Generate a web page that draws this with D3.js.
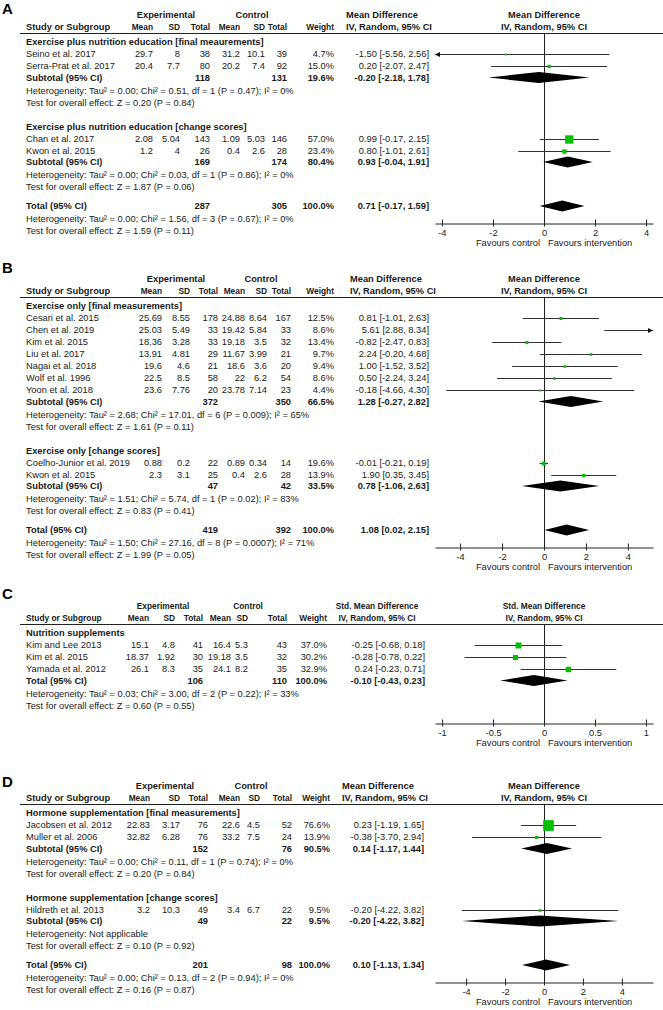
<!DOCTYPE html>
<html><head><meta charset="utf-8">
<script src="https://cdn.jsdelivr.net/npm/d3@7"></script>
<style>
html,body{margin:0;padding:0;background:#fff;}
svg{display:block;}
text{font-family:"Liberation Sans",Arial,sans-serif;font-size:9.3px;fill:#1a1a1a;}
.b{font-weight:bold;}
.lab{font-size:15px;font-weight:bold;fill:#000;}
</style></head><body>
<svg id="c" width="663" height="1010"></svg>
<script>
// ---------------- DATA ----------------
const groupsA = ["Exercise plus nutrition education [final meaurements]", "Exercise plus nutrition education [change scores]"];
const studiesA = [
  {g:0, name:"Seino et al. 2017", em:"29.7", esd:"8", en:38, cm:"31.2", csd:"10.1", cn:39, w:4.7, md:-1.50, lo:-5.56, hi:2.56},
  {g:0, name:"Serra-Prat et al. 2017", em:"20.4", esd:"7.7", en:80, cm:"20.2", csd:"7.4", cn:92, w:15.0, md:0.20, lo:-2.07, hi:2.47},
  {g:1, name:"Chan et al. 2017", em:"2.08", esd:"5.04", en:143, cm:"1.09", csd:"5.03", cn:146, w:57.0, md:0.99, lo:-0.17, hi:2.15},
  {g:1, name:"Kwon et al. 2015", em:"1.2", esd:"4", en:26, cm:"0.4", csd:"2.6", cn:28, w:23.4, md:0.80, lo:-1.01, hi:2.61}
];
const subtotalsA = [
  {g:0, en:118, cn:131, w:19.6, md:-0.20, lo:-2.18, hi:1.78, het:"Heterogeneity: Tau² = 0.00; Chi² = 0.51, df = 1 (P = 0.47); I² = 0%", test:"Test for overall effect: Z = 0.20 (P = 0.84)"},
  {g:1, en:169, cn:174, w:80.4, md:0.93, lo:-0.04, hi:1.91, het:"Heterogeneity: Tau² = 0.00; Chi² = 0.03, df = 1 (P = 0.86); I² = 0%", test:"Test for overall effect: Z = 1.87 (P = 0.06)"}
];
const totalA = {en:287, cn:305, w:100.0, md:0.71, lo:-0.17, hi:1.59, het:"Heterogeneity: Tau² = 0.00; Chi² = 1.56, df = 3 (P = 0.67); I² = 0%", test:"Test for overall effect: Z = 1.59 (P = 0.11)"};
const ticksA = [-4, -2, 0, 2, 4];

const groupsB = ["Exercise only [final measurements]", "Exercise only [change scores]"];
const studiesB = [
  {g:0, name:"Cesari et al. 2015", em:"25.69", esd:"8.55", en:178, cm:"24.88", csd:"8.64", cn:167, w:12.5, md:0.81, lo:-1.01, hi:2.63},
  {g:0, name:"Chen et al. 2019", em:"25.03", esd:"5.49", en:33, cm:"19.42", csd:"5.84", cn:33, w:8.6, md:5.61, lo:2.88, hi:8.34},
  {g:0, name:"Kim et al. 2015", em:"18.36", esd:"3.28", en:33, cm:"19.18", csd:"3.5", cn:32, w:13.4, md:-0.82, lo:-2.47, hi:0.83},
  {g:0, name:"Liu et al. 2017", em:"13.91", esd:"4.81", en:29, cm:"11.67", csd:"3.99", cn:21, w:9.7, md:2.24, lo:-0.20, hi:4.68},
  {g:0, name:"Nagai et al. 2018", em:"19.6", esd:"4.6", en:21, cm:"18.6", csd:"3.6", cn:20, w:9.4, md:1.00, lo:-1.52, hi:3.52},
  {g:0, name:"Wolf et al. 1996", em:"22.5", esd:"8.5", en:58, cm:"22", csd:"6.2", cn:54, w:8.6, md:0.50, lo:-2.24, hi:3.24},
  {g:0, name:"Yoon et al. 2018", em:"23.6", esd:"7.76", en:20, cm:"23.78", csd:"7.14", cn:23, w:4.4, md:-0.18, lo:-4.66, hi:4.30},
  {g:1, name:"Coelho-Junior et al. 2019", em:"0.88", esd:"0.2", en:22, cm:"0.89", csd:"0.34", cn:14, w:19.6, md:-0.01, lo:-0.21, hi:0.19},
  {g:1, name:"Kwon et al. 2015", em:"2.3", esd:"3.1", en:25, cm:"0.4", csd:"2.6", cn:28, w:13.9, md:1.90, lo:0.35, hi:3.45}
];
const subtotalsB = [
  {g:0, en:372, cn:350, w:66.5, md:1.28, lo:-0.27, hi:2.82, het:"Heterogeneity: Tau² = 2.68; Chi² = 17.01, df = 6 (P = 0.009); I² = 65%", test:"Test for overall effect: Z = 1.61 (P = 0.11)"},
  {g:1, en:47, cn:42, w:33.5, md:0.78, lo:-1.06, hi:2.63, het:"Heterogeneity: Tau² = 1.51; Chi² = 5.74, df = 1 (P = 0.02); I² = 83%", test:"Test for overall effect: Z = 0.83 (P = 0.41)"}
];
const totalB = {en:419, cn:392, w:100.0, md:1.08, lo:0.02, hi:2.15, het:"Heterogeneity: Tau² = 1.50; Chi² = 27.16, df = 8 (P = 0.0007); I² = 71%", test:"Test for overall effect: Z = 1.99 (P = 0.05)"};
const ticksB = [-4, -2, 0, 2, 4];

const groupsC = ["Nutrition supplements"];
const studiesC = [
  {g:0, name:"Kim and Lee 2013", em:"15.1", esd:"4.8", en:41, cm:"16.4", csd:"5.3", cn:43, w:37.0, md:-0.25, lo:-0.68, hi:0.18},
  {g:0, name:"Kim et al. 2015", em:"18.37", esd:"1.92", en:30, cm:"19.18", csd:"3.5", cn:32, w:30.2, md:-0.28, lo:-0.78, hi:0.22},
  {g:0, name:"Yamada et al. 2012", em:"26.1", esd:"8.3", en:35, cm:"24.1", csd:"8.2", cn:35, w:32.9, md:0.24, lo:-0.23, hi:0.71}
];
const subtotalsC = [];
const totalC = {en:106, cn:110, w:100.0, md:-0.10, lo:-0.43, hi:0.23, het:"Heterogeneity: Tau² = 0.03; Chi² = 3.00, df = 2 (P = 0.22); I² = 33%", test:"Test for overall effect: Z = 0.60 (P = 0.55)"};
const ticksC = [-1, -0.5, 0, 0.5, 1];

const groupsD = ["Hormone supplementation [final measurements]", "Hormone supplementation [change scores]"];
const studiesD = [
  {g:0, name:"Jacobsen et al. 2012", em:"22.83", esd:"3.17", en:76, cm:"22.6", csd:"4.5", cn:52, w:76.6, md:0.23, lo:-1.19, hi:1.65},
  {g:0, name:"Muller et al. 2006", em:"32.82", esd:"6.28", en:76, cm:"33.2", csd:"7.5", cn:24, w:13.9, md:-0.38, lo:-3.70, hi:2.94},
  {g:1, name:"Hildreth et al. 2013", em:"3.2", esd:"10.3", en:49, cm:"3.4", csd:"6.7", cn:22, w:9.5, md:-0.20, lo:-4.22, hi:3.82}
];
const subtotalsD = [
  {g:0, en:152, cn:76, w:90.5, md:0.14, lo:-1.17, hi:1.44, het:"Heterogeneity: Tau² = 0.00; Chi² = 0.11, df = 1 (P = 0.74); I² = 0%", test:"Test for overall effect: Z = 0.20 (P = 0.84)"},
  {g:1, en:49, cn:22, w:9.5, md:-0.20, lo:-4.22, hi:3.82, het:"Heterogeneity: Not applicable", test:"Test for overall effect: Z = 0.10 (P = 0.92)"}
];
const totalD = {en:201, cn:98, w:100.0, md:0.10, lo:-1.13, hi:1.34, het:"Heterogeneity: Tau² = 0.00; Chi² = 0.13, df = 2 (P = 0.94); I² = 0%", test:"Test for overall effect: Z = 0.16 (P = 0.87)"};
const ticksD = [-4, -2, 0, 2, 4];

const panelLabels = ["A", "B", "C", "D"];
const effectTitles = ["Mean Difference", "Mean Difference", "Std. Mean Difference", "Mean Difference"];
const methodTitle = "IV, Random, 95% CI";

// ---------------- LAYOUT ----------------
const panels = [
  {lab:panelLabels[0], groups:groupsA, studies:studiesA, subs:subtotalsA, total:totalA, ticks:ticksA, eff:effectTitles[0],
   line:33, labY:9, xMax:4.27, axisBelowTest:false, hsx:1,
   col:{mean:153, sd:180, tot:210, cmean:240, csd:265, ctot:287, w:334, expC:166, ctlC:252, effH:346, effA:"start", effR:429}},
  {lab:panelLabels[1], groups:groupsB, studies:studiesB, subs:subtotalsB, total:totalB, ticks:ticksB, eff:effectTitles[1],
   line:297, labY:268, xMax:5.2, axisBelowTest:false, hsx:1,
   col:{mean:162, sd:190, tot:218, cmean:245, csd:267, ctot:291, w:334, expC:176, ctlC:261, effH:350, effA:"start", effR:429}},
  {lab:panelLabels[2], groups:groupsC, studies:studiesC, subs:subtotalsC, total:totalC, ticks:ticksC, eff:effectTitles[2],
   line:624, labY:594, xMax:1.07, axisBelowTest:true, hsx:0.9,
   col:{mean:149, sd:175, tot:203, cmean:231, csd:248, ctot:287, w:327, expC:163, ctlC:248, effH:377, effA:"middle", effR:425}},
  {lab:panelLabels[3], groups:groupsD, studies:studiesD, subs:subtotalsD, total:totalD, ticks:ticksD, eff:effectTitles[3],
   line:804, labY:782, xMax:5.6, axisBelowTest:false, hsx:1,
   col:{mean:150, sd:180, tot:208, cmean:240, csd:260, ctot:292, w:330, expC:165, ctlC:251, effH:342, effA:"start", effR:424}}
];

const svg = d3.select("#c");
const size = d3.scaleLinear().domain([0, 100]).range([1.5, 13.5]);
const f2 = v => v.toFixed(2);
const ciText = d => f2(d.md) + " [" + f2(d.lo) + ", " + f2(d.hi) + "]";
const wText = w => w.toFixed(1) + "%";
const GREEN = "#00c000";

function buildRows(p) {
  const rows = [];
  p.groups.forEach((gname, gi) => {
    rows.push({type:"group", text:gname, adv: gi === 0 ? 9 : 24});
    p.studies.filter(s => s.g === gi).forEach(s => rows.push({type:"study", d:s, adv:12}));
    const st = p.subs.find(s => s.g === gi);
    if (st) {
      rows.push({type:"sub", d:st, adv:11.5});
      rows.push({type:"het", text:st.het, adv:13});
      rows.push({type:"test", text:st.test, adv:12});
    }
  });
  rows.push({type:"total", d:p.total, adv: p.subs.length ? 19 : 11.5});
  rows.push({type:"het", text:p.total.het, adv:13});
  rows.push({type:"test", text:p.total.test, adv:12});
  let y = p.line;
  rows.forEach(r => { y += r.adv; r.y = y; });
  return rows;
}

function txt(g, x, y, s, anchor, bold, sx) {
  const t = g.append("text").attr("dy", "0.35em")
    .attr("text-anchor", anchor || "start").attr("class", bold ? "b" : null).text(s);
  if (sx && sx !== 1) t.attr("transform", `translate(${x},${y}) scale(${sx},1)`);
  else t.attr("x", x).attr("y", y);
  return t;
}

panels.forEach(p => {
  const g = svg.append("g");
  const c = p.col;
  const x = d3.scaleLinear().domain([-p.xMax, p.xMax]).range([435, 653]);
  const x0 = x(0);
  const rows = buildRows(p);
  const hs = p.hsx;
  const cs = 0.9; // numeric column headers are slightly condensed

  // panel letter
  g.append("text").attr("class", "lab").attr("x", 2).attr("y", p.labY).attr("dy", "0.35em").text(p.lab);

  // header rows
  const h1 = p.line - 18, h2 = p.line - 6;
  txt(g, c.expC, h1, "Experimental", "middle", true, hs);
  txt(g, c.ctlC, h1, "Control", "middle", true, hs);
  txt(g, 26, h2, "Study or Subgroup", "start", true, hs);
  txt(g, c.mean, h2, "Mean", "end", true, cs);
  txt(g, c.sd, h2, "SD", "end", true, cs);
  txt(g, c.tot, h2, "Total", "end", true, cs);
  txt(g, c.cmean, h2, "Mean", "end", true, cs);
  txt(g, c.csd, h2, "SD", "end", true, cs);
  txt(g, c.ctot, h2, "Total", "end", true, cs);
  txt(g, c.w, h2, "Weight", "end", true, cs);
  txt(g, c.effH, h1, p.eff, c.effA, true, hs);
  txt(g, c.effH, h2, methodTitle, c.effA, true, hs);
  txt(g, x0, h1, p.eff, "middle", true, hs);
  txt(g, x0, h2, methodTitle, "middle", true, hs);
  g.append("line").attr("x1", 20).attr("x2", 663).attr("y1", p.line + 0.5).attr("y2", p.line + 0.5)
    .attr("stroke", "#222").attr("stroke-width", 1);

  // axis position
  const totalRow = rows.find(r => r.type === "total");
  const lastRow = rows[rows.length - 1];
  const axisY = Math.round(p.axisBelowTest ? lastRow.y + 17 : totalRow.y + 17);

  // zero line
  g.append("line").attr("x1", Math.round(x0) + 0.5).attr("x2", Math.round(x0) + 0.5)
    .attr("y1", p.line).attr("y2", axisY).attr("stroke", "#222").attr("stroke-width", 1);

  rows.forEach(r => {
    const y = r.y;
    if (r.type === "group") txt(g, 26, y, r.text, "start", true);
    else if (r.type === "het" || r.type === "test") txt(g, 26, y, r.text, "start", false);
    else if (r.type === "study") {
      const d = r.d;
      txt(g, 26, y, d.name);
      txt(g, c.mean, y, d.em, "end");
      txt(g, c.sd, y, d.esd, "end");
      txt(g, c.tot, y, String(d.en), "end");
      txt(g, c.cmean, y, d.cm, "end");
      txt(g, c.csd, y, d.csd, "end");
      txt(g, c.ctot, y, String(d.cn), "end");
      txt(g, c.w, y, wText(d.w), "end");
      txt(g, c.effR, y, ciText(d), "end");
      // CI line with arrows when clipped
      const [dmin, dmax] = x.domain();
      const lo = Math.max(d.lo, dmin), hi = Math.min(d.hi, dmax);
      const ly = Math.round(y) + 0.5;
      g.append("line").attr("x1", x(lo)).attr("x2", x(hi)).attr("y1", ly).attr("y2", ly)
        .attr("stroke", "#333").attr("stroke-width", 1);
      if (d.lo < dmin) {
        const ax = x(dmin);
        g.append("path").attr("d", `M${ax},${ly}L${ax + 5},${ly - 2.5}L${ax + 5},${ly + 2.5}Z`).attr("fill", "#111");
      }
      if (d.hi > dmax) {
        const ax = x(dmax);
        g.append("path").attr("d", `M${ax},${ly}L${ax - 5},${ly - 2.5}L${ax - 5},${ly + 2.5}Z`).attr("fill", "#111");
      }
      if (d.md >= dmin && d.md <= dmax) {
        const s = size(d.w);
        g.append("rect").attr("x", x(d.md) - s / 2).attr("y", ly - s / 2).attr("width", s).attr("height", s)
          .attr("fill", GREEN);
      }
    } else if (r.type === "sub" || r.type === "total") {
      const d = r.d;
      txt(g, 26, y, r.type === "sub" ? "Subtotal (95% CI)" : "Total (95% CI)", "start", true);
      txt(g, c.tot, y, String(d.en), "end", true);
      txt(g, c.ctot, y, String(d.cn), "end", true);
      txt(g, c.w, y, wText(d.w), "end", true);
      txt(g, c.effR, y, ciText(d), "end", true);
      const hh = 5.5;
      g.append("path").attr("d", `M${x(d.lo)},${y}L${x(d.md)},${y - hh}L${x(d.hi)},${y}L${x(d.md)},${y + hh}Z`)
        .attr("fill", "#000");
    }
  });

  // axis
  const axis = d3.axisBottom(x).tickValues(p.ticks).tickFormat(v => String(v)).tickSizeOuter(0).tickSizeInner(3).tickPadding(3);
  const ag = g.append("g").attr("transform", `translate(0,${axisY + 0.5})`).call(axis);
  ag.select(".domain").attr("stroke", "#222");
  ag.selectAll(".tick line").attr("y1", -4).attr("y2", 3).attr("stroke", "#222");
  ag.selectAll(".tick text").attr("fill", "#1a1a1a").attr("dy", "0.71em");
  ag.attr("font-size", null).attr("font-family", null);
  txt(g, x0 - 4, axisY + 20, "Favours control", "end");
  txt(g, x0 + 4, axisY + 20, "Favours intervention", "start");
});
</script>
</body></html>
